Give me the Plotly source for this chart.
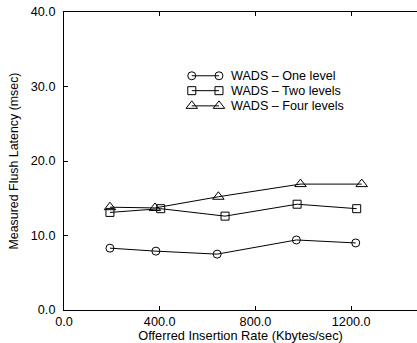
import plotly.graph_objects as go

# Offered insertion rate (Kbytes/sec) and measured flush latency (msec)
one_x = [192, 384, 640, 971, 1219]
one_y = [8.3, 7.9, 7.5, 9.4, 9.0]

two_x = [192, 404, 673, 974, 1223]
two_y = [13.1, 13.6, 12.6, 14.2, 13.6]

four_x = [192, 380, 645, 988, 1244]
four_y = [13.8, 13.7, 15.2, 16.9, 16.9]

series_names = ["WADS \u2013 One level", "WADS \u2013 Two levels", "WADS \u2013 Four levels"]
symbols = ["circle-open", "square-open", "triangle-up-open"]
marker_sizes = [8, 8, 10]

x_ticks = [0, 400, 800, 1200]
y_ticks = [0, 10, 20, 30, 40]

FONT = "Liberation Sans, Arial, Helvetica, sans-serif"

fig = go.Figure()

for xs, ys, name, sym, ms in zip([one_x, two_x, four_x], [one_y, two_y, four_y],
                                 series_names, symbols, marker_sizes):
    fig.add_trace(go.Scatter(
        x=xs, y=ys, mode="lines+markers", name=name, showlegend=False,
        line=dict(color="black", width=1),
        marker=dict(symbol=sym, size=ms, color="black", line=dict(color="black", width=1)),
    ))

# Hand-drawn key: a line with a marker at each end, text to the right
key_x0, key_x1, key_text_x = 0.362, 0.439, 0.466
key_rows = [0.786, 0.736, 0.685]
for name, sym, ms, ky in zip(series_names, symbols, marker_sizes, key_rows):
    fig.add_trace(go.Scatter(
        x=[key_x0, key_x1], y=[ky, ky], xaxis="x2", yaxis="y2",
        mode="lines+markers", showlegend=False, hoverinfo="skip",
        line=dict(color="black", width=1),
        marker=dict(symbol=sym, size=ms, color="black", line=dict(color="black", width=1)),
    ))
    fig.add_annotation(
        x=key_text_x, y=ky, xref="x2", yref="y2", text=name, showarrow=False,
        xanchor="left", yanchor="middle", font=dict(family=FONT, size=12.6, color="black"),
    )

fig.update_layout(
    width=417, height=343,
    margin=dict(l=64, r=0, t=12, b=33),
    paper_bgcolor="white", plot_bgcolor="white",
    font=dict(family=FONT, size=12.6, color="black"),
    xaxis=dict(
        range=[0, 1475], tickvals=x_ticks, ticktext=[f"{v:.1f}" for v in x_ticks],
        showgrid=False, zeroline=False, showline=True, linecolor="black", linewidth=1,
        mirror="ticks", ticks="inside", ticklen=4, tickcolor="black",
        title=dict(text="Offerred Insertion Rate (Kbytes/sec)", font=dict(size=12.8), standoff=5),
        tickfont=dict(size=12.7), ticklabelstandoff=0,
    ),
    yaxis=dict(
        range=[0, 40], tickvals=y_ticks, ticktext=[f"{v:.1f}" for v in y_ticks],
        showgrid=False, zeroline=False, showline=True, linecolor="black", linewidth=1,
        mirror=False, ticks="inside", ticklen=4, tickcolor="black",
        title=dict(text="Measured Flush Latency (msec)", font=dict(size=12.4), standoff=9),
        tickfont=dict(size=12.7), ticklabelstandoff=5,
    ),
    xaxis2=dict(range=[0, 1], overlaying="x", visible=False, fixedrange=True),
    yaxis2=dict(range=[0, 1], overlaying="y", visible=False, fixedrange=True),
)

fig.write_html("out.html")
